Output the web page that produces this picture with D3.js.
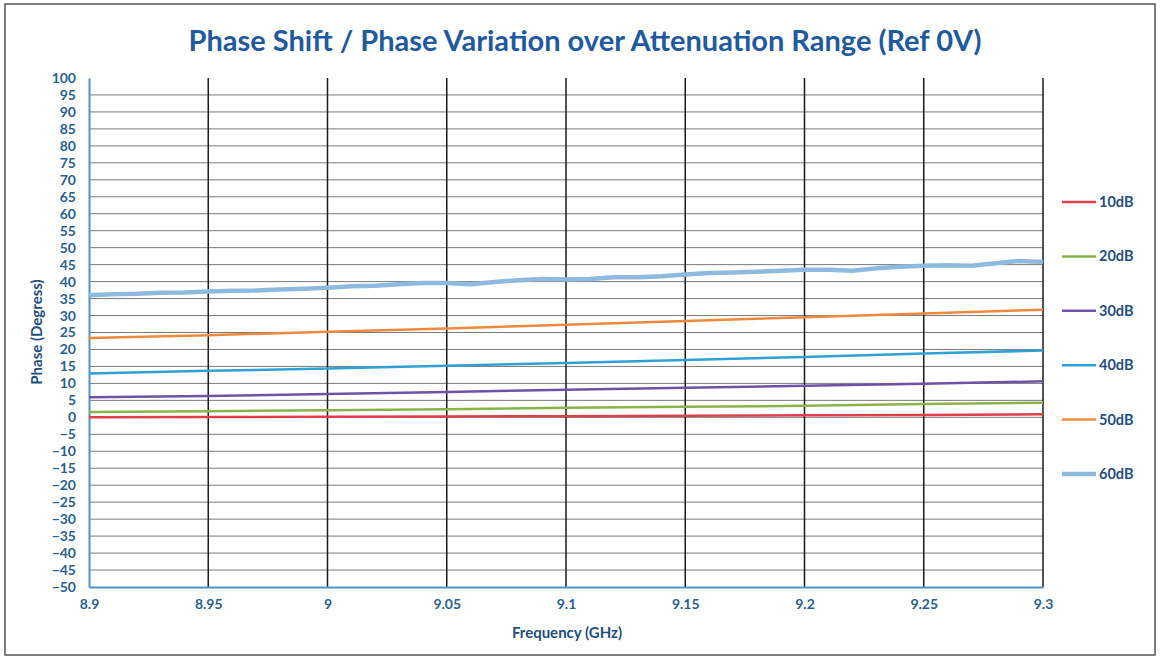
<!DOCTYPE html>
<html>
<head>
<meta charset="utf-8">
<script src="https://cdn.jsdelivr.net/npm/d3@7"></script>
<style>
  body { margin: 0; background: #fff; }
  svg { display: block; font-family: Lato, "Open Sans", sans-serif; }
</style>
</head>
<body>
<div id="chart"></div>
<script>
// x positions (GHz) for the smooth traces, 0.05 steps
var freqs = [8.9, 8.95, 9.0, 9.05, 9.1, 9.15, 9.2, 9.25, 9.3];
var xTicks = [8.9, 8.95, 9, 9.05, 9.1, 9.15, 9.2, 9.25, 9.3];

var ph10 = [0.0, 0.1, 0.15, 0.25, 0.35, 0.45, 0.6, 0.7, 0.9];
var ph20 = [1.6, 1.8, 2.1, 2.4, 2.8, 3.1, 3.4, 3.9, 4.3];
var ph30 = [5.9, 6.3, 6.9, 7.5, 8.1, 8.7, 9.3, 9.9, 10.6];
var ph40 = [12.9, 13.7, 14.4, 15.2, 16.0, 16.9, 17.8, 18.8, 19.7];
var ph50 = [23.4, 24.2, 25.2, 26.2, 27.3, 28.4, 29.5, 30.6, 31.7];

var freqs60 = [8.90, 8.91, 8.92, 8.93, 8.94, 8.95, 8.96, 8.97, 8.98, 8.99,
               9.00, 9.01, 9.02, 9.03, 9.04, 9.05, 9.06, 9.07, 9.08, 9.09,
               9.10, 9.11, 9.12, 9.13, 9.14, 9.15, 9.16, 9.17, 9.18, 9.19,
               9.20, 9.21, 9.22, 9.23, 9.24, 9.25, 9.26, 9.27, 9.28, 9.29, 9.30];
var ph60 = [36.0, 36.3, 36.4, 36.7, 36.8, 37.1, 37.3, 37.4, 37.7, 37.9,
            38.2, 38.6, 38.8, 39.2, 39.6, 39.6, 39.2, 39.9, 40.4, 40.8,
            40.6, 40.8, 41.3, 41.3, 41.6, 42.1, 42.5, 42.7, 42.9, 43.2,
            43.5, 43.5, 43.2, 43.9, 44.4, 44.7, 44.8, 44.7, 45.4, 46.1, 45.8];

var seriesNames = ["10dB", "20dB", "30dB", "40dB", "50dB", "60dB"];
var seriesColors = ["#df3f4b", "#8cb24a", "#6f52a6", "#2ea2d6", "#f08a3a", "#8fbae0"];

var width = 1161, height = 660;
var margin = {top: 78, right: 118, bottom: 73, left: 89};
var iw = width - margin.left - margin.right,
    ih = height - margin.top - margin.bottom;

var svg = d3.select("#chart").append("svg")
    .attr("width", width)
    .attr("height", height);

// outer frame
svg.append("rect")
    .attr("x", 5).attr("y", 4)
    .attr("width", 1150).attr("height", 651)
    .attr("fill", "none")
    .attr("stroke", "#555")
    .attr("stroke-width", 1.5);

var g = svg.append("g")
    .attr("transform", "translate(" + margin.left + "," + margin.top + ")");

var x = d3.scaleLinear().domain([8.9, 9.3]).range([0, iw]);
var y = d3.scaleLinear().domain([-50, 100]).range([ih, 0]);

// horizontal grid
g.append("g")
  .selectAll("line")
  .data(d3.range(-45, 100, 5))
  .join("line")
    .attr("x1", 0).attr("x2", iw)
    .attr("y1", function(d) { return y(d); })
    .attr("y2", function(d) { return y(d); })
    .attr("stroke", "#7a7a7a")
    .attr("stroke-width", 1);

// vertical grid
g.append("g")
  .selectAll("line")
  .data(xTicks.slice(1))
  .join("line")
    .attr("x1", function(d) { return x(d); })
    .attr("x2", function(d) { return x(d); })
    .attr("y1", 0).attr("y2", ih)
    .attr("stroke", "#1a1a1a")
    .attr("stroke-width", 1.5);

// Y axis
var yAxis = g.append("g")
    .call(d3.axisLeft(y).tickValues(d3.range(-50, 101, 5)).tickSize(0).tickPadding(13))
    .attr("font-family", null);
yAxis.select(".domain").attr("stroke", "#4f93c9").attr("stroke-width", 2);
yAxis.selectAll("text")
    .attr("fill", "#2b5f8e")
    .style("font-size", "14px")
    .style("font-weight", "bold");

// X axis
var xAxis = g.append("g")
    .attr("transform", "translate(0," + ih + ")")
    .call(d3.axisBottom(x).tickValues(xTicks).tickFormat(d3.format("")).tickSize(0).tickPadding(12))
    .attr("font-family", null);
xAxis.select(".domain").attr("stroke", "#4f93c9").attr("stroke-width", 2);
xAxis.selectAll("text")
    .attr("fill", "#2b5f8e")
    .style("font-size", "14px")
    .style("font-weight", "bold");

// lines
var line = d3.line()
    .x(function(d) { return x(d[0]); })
    .y(function(d) { return y(d[1]); });

var smooth = [ph10, ph20, ph30, ph40, ph50];
smooth.forEach(function(vals, i) {
  g.append("path")
    .datum(d3.zip(freqs, vals))
    .attr("fill", "none")
    .attr("stroke", seriesColors[i])
    .attr("stroke-width", 2.5)
    .attr("d", line);
});

g.append("path")
    .datum(d3.zip(freqs60, ph60))
    .attr("fill", "none")
    .attr("stroke", seriesColors[5])
    .attr("stroke-width", 4.5)
    .attr("stroke-linejoin", "round")
    .attr("d", line);

// legend
var legend = svg.append("g");
seriesNames.forEach(function(name, i) {
  var ly = 202 + i * 54.4;
  legend.append("line")
    .attr("x1", 1062).attr("x2", 1096)
    .attr("y1", ly).attr("y2", ly)
    .attr("stroke", seriesColors[i])
    .attr("stroke-width", i == 5 ? 4.5 : 2.5);
  legend.append("text")
    .attr("x", 1099).attr("y", ly + 5)
    .attr("fill", "#1f4f7d")
    .style("font-size", "14.5px")
    .style("font-weight", "bold")
    .text(name);
});

// titles
svg.append("text")
    .attr("x", 585).attr("y", 51)
    .attr("text-anchor", "middle")
    .attr("fill", "#1f5a9e")
    .style("font-size", "29px")
    .style("font-weight", "bold")
    .text("Phase Shift / Phase Variation over Attenuation Range (Ref 0V)");

svg.append("text")
    .attr("x", 567).attr("y", 638)
    .attr("text-anchor", "middle")
    .attr("fill", "#1f4f7d")
    .style("font-size", "15px")
    .style("font-weight", "bold")
    .text("Frequency (GHz)");

svg.append("text")
    .attr("transform", "translate(42,332) rotate(-90)")
    .attr("text-anchor", "middle")
    .attr("fill", "#1f4f7d")
    .style("font-size", "15px")
    .style("font-weight", "bold")
    .text("Phase (Degress)");
</script>
</body>
</html>
